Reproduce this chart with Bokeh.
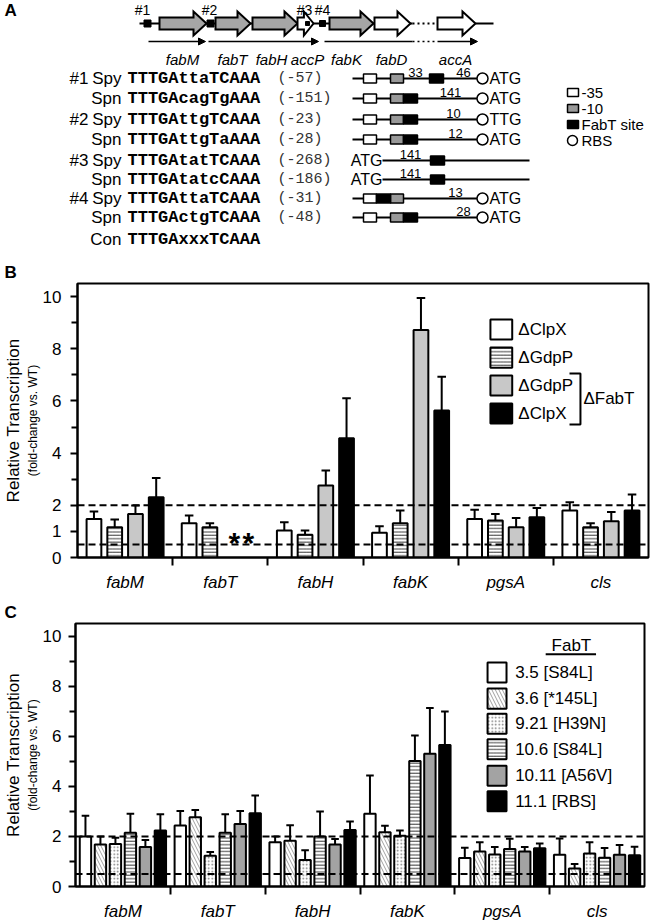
import math
from bokeh.plotting import figure
from bokeh.models import (Range1d, FixedTicker, CustomJSTickFormatter, Span, LinearAxis,
                          ColumnDataSource, Arrow, NormalHead)
from bokeh.embed import file_html
from bokeh.resources import INLINE
from bokeh.core.properties import value

SANS = "Liberation Sans"
MONO = "Liberation Mono"

# ---------------- Panel A data (schematic, page-pixel coordinates) ----------------
promoter_ids = ["#1", "#2", "#3", "#4"]
promoter_x = [147, 210, 307, 322]
promoter_label_x = [142, 209, 304, 322]

genes_a = ["fabM", "fabT", "fabH", "accP", "fabK", "fabD", "accA"]
gene_start = [159, 215, 252, 297, 329, 374, 437]
gene_end = [206, 250, 297, 313, 373, 410, 475]
gene_filled = [True, True, True, False, True, False, False]
gene_label_x = [182, 232, 271, 307, 346, 391, 455]

operon_start = [148, 208, 324]
operon_end = [205, 318, 477]

seq_group = ["#1", "", "#2", "", "#3", "", "#4", ""]
seq_species = ["Spy", "Spn", "Spy", "Spn", "Spy", "Spn", "Spy", "Spn"]
seq_text = ["TTTGAttaTCAAA", "TTTGAcagTgAAA", "TTTGAttgTCAAA", "TTTGAttgTaAAA",
            "TTTGAtatTCAAA", "TTTGAtatcCAAA", "TTTGAttaTCAAA", "TTTGActgTCAAA"]
seq_pos = ["(-57)", "(-151)", "(-23)", "(-28)", "(-268)", "(-186)", "(-31)", "(-48)"]
row_y = [78, 98, 119, 139, 160, 179, 198, 217]
con_label = "Con"
consensus = "TTTGAxxxTCAAA"
con_y = 239

has_promoter = [True, True, True, True, False, False, True, True]
box35 = [363, 376]
box10 = [390, 403]
fabt_left = [429, 403, 403, 403, 430, 430, 376, 403]
start_codon = ["ATG", "ATG", "TTG", "ATG", "ATG", "ATG", "ATG", "ATG"]
spacer_text = ["33", "46", "141", "10", "12", "141", "141", "13", "28"]
spacer_x = [415, 463, 450, 453, 455, 410, 410, 455, 463]
spacer_row = [0, 0, 1, 2, 3, 4, 5, 6, 7]

legend_a_labels = ["-35", "-10", "FabT site", "RBS"]
legend_a_y = [92, 108, 124, 140]

# ---------------- Panel B data ----------------
genes = ["fabM", "fabT", "fabH", "fabK", "pgsA", "cls"]
b_labels = ["\u0394ClpX", "\u0394GdpP", "\u0394GdpP", "\u0394ClpX"]
b_clpx = [1.48, 1.31, 1.03, 0.95, 1.48, 1.80]
b_clpx_err = [1.76, 1.61, 1.35, 1.20, 1.83, 2.12]
b_gdpp = [1.16, 1.16, 0.87, 1.31, 1.42, 1.16]
b_gdpp_err = [1.46, 1.31, 1.03, 1.80, 1.67, 1.31]
b_gdpp_fabt = [1.67, None, 2.76, 8.72, 1.16, 1.39]
b_gdpp_fabt_err = [1.99, None, 3.33, 9.94, 1.51, 1.74]
b_clpx_fabt = [2.31, None, 4.57, 5.63, 1.54, 1.80]
b_clpx_fabt_err = [3.05, None, 6.10, 6.93, 1.90, 2.41]
b_yticks = [0, 1, 2, 4, 6, 8, 10]
b_yminor = [3, 5, 7, 9]

# ---------------- Panel C data ----------------
c_labels = ["3.5 [S84L]", "3.6 [*145L]", "9.21 [H39N]", "10.6 [S84L]", "10.11 [A56V]", "11.1 [RBS]"]
c_35 = [2.00, 2.44, 1.77, 2.90, 1.14, 1.27]
c_35_err = [2.82, 3.01, 2.00, 4.43, 1.55, 1.92]
c_36 = [1.68, 2.76, 1.83, 2.17, 1.40, 0.72]
c_36_err = [2.00, 3.05, 2.45, 2.43, 1.77, 0.90]
c_921 = [1.70, 1.23, 1.06, 2.03, 1.28, 1.32]
c_921_err = [1.95, 1.38, 1.45, 2.24, 1.58, 1.77]
c_106 = [2.15, 2.15, 2.00, 5.01, 1.50, 1.15]
c_106_err = [2.90, 2.88, 2.99, 6.03, 1.91, 1.54]
c_1011 = [1.58, 2.50, 1.68, 5.30, 1.40, 1.27]
c_1011_err = [1.86, 3.01, 1.90, 7.13, 1.58, 1.66]
c_111 = [2.24, 2.92, 2.26, 5.65, 1.53, 1.25]
c_111_err = [2.88, 3.63, 2.60, 6.99, 1.72, 1.59]
c_yticks = [0, 2, 4, 6, 8, 10]
c_yminor = [1, 3, 5, 7, 9]

ref_lines = [2, 0.5]

# styles
WHITE = dict(fill_color="white")
HLINE = dict(fill_color="white", hatch_pattern="horizontal_line", hatch_color="#222222",
             hatch_scale=3.4, hatch_weight=0.9)
DIAG = dict(fill_color="white", hatch_pattern="left_diagonal_line", hatch_color="#777777",
            hatch_scale=7, hatch_weight=0.7)
DOTS = dict(fill_color="white", hatch_pattern="dot", hatch_color="#777777",
            hatch_scale=3.5, hatch_weight=0.8)
LGREY = dict(fill_color="#c8c8c8")
DGREY = dict(fill_color="#a3a3a3")
BLACK = dict(fill_color="black")


def txt(p, xs, ys, texts, size, font=SANS, style="normal", align="left", baseline="middle",
        color="black", angle=0):
    p.text(x=xs, y=ys, text=texts, text_font=value(font), text_font_size=size,
           text_font_style=style, text_align=align, text_baseline=baseline,
           text_color=color, angle=angle)


def blank_fig(top, bottom):
    p = figure(width=650, height=bottom - top, x_range=Range1d(0, 650),
               y_range=Range1d(bottom, top), toolbar_location=None, output_backend="svg",
               x_axis_location=None, y_axis_location=None,
               min_border_left=0, min_border_right=0, min_border_top=0, min_border_bottom=0)
    p.grid.visible = False
    p.outline_line_color = None
    return p


# ======================= Panel A =======================
pa = blank_fig(0, 281)
txt(pa, [4], [10], ["A"], "17px", style="bold")
txt(pa, [4], [272], ["B"], "17px", style="bold")

axis_y = 23
pa.segment(x0=[139, 475], y0=[axis_y, axis_y], x1=[412, 493], y1=[axis_y, axis_y],
           line_color="black", line_width=2)
pa.segment(x0=[412], y0=[axis_y], x1=[437], y1=[axis_y], line_color="black",
           line_width=2, line_dash="2 3")

xs, ys, fills = [], [], []
for x0, x1, filled in zip(gene_start, gene_end, gene_filled):
    hl = min(13, (x1 - x0) * 0.6)
    xh = x1 - hl
    xs.append([x0, xh, xh, x1, xh, xh, x0])
    ys.append([axis_y - 6, axis_y - 6, axis_y - 12, axis_y, axis_y + 12, axis_y + 6, axis_y + 6])
    fills.append("#a6a6a6" if filled else "white")
pa.patches(xs, ys, fill_color=fills, line_color="black", line_width=2, line_join="miter")

psize = [7, 7, 4, 6]
pa.rect(x=promoter_x, y=[axis_y] * 4, width=psize, height=psize, fill_color="black",
        line_color="black")
txt(pa, promoter_label_x, [9] * 4, promoter_ids, "14px", align="center")

arrow_y = 41
for s, e in zip(operon_start, operon_end):
    if e > 440:
        pa.segment(x0=[s], y0=[arrow_y], x1=[412], y1=[arrow_y], line_color="black",
                   line_width=1.5)
        pa.segment(x0=[412], y0=[arrow_y], x1=[436], y1=[arrow_y], line_color="black",
                   line_width=1.5, line_dash="2 3")
        s = 437
    pa.add_layout(Arrow(x_start=s, y_start=arrow_y, x_end=e, y_end=arrow_y, line_width=1.5,
                        end=NormalHead(size=7, fill_color="black", line_color="black")))
txt(pa, gene_label_x, [59] * 7, genes_a, "15px", style="italic", align="center")

txt(pa, [88] * 8, row_y, seq_group, "17px", align="right")
txt(pa, [121] * 8, row_y, seq_species, "17px", align="right")
txt(pa, [127] * 8, row_y, seq_text, "17px", font=MONO, style="bold")
txt(pa, [277] * 8, row_y, seq_pos, "15px", font=MONO, color="#333333")
txt(pa, [121], [con_y], [con_label], "17px", align="right")
txt(pa, [127], [con_y], [consensus], "17px", font=MONO, style="bold")

prom_rows = [i for i in range(8) if has_promoter[i]]
other_rows = [i for i in range(8) if not has_promoter[i]]
pa.segment(x0=[352] * len(prom_rows), y0=[row_y[i] for i in prom_rows],
           x1=[477] * len(prom_rows), y1=[row_y[i] for i in prom_rows],
           line_color="black", line_width=2)
pa.segment(x0=[382] * len(other_rows), y0=[row_y[i] for i in other_rows],
           x1=[529] * len(other_rows), y1=[row_y[i] for i in other_rows],
           line_color="black", line_width=2)
bh = 4.5
pa.quad(left=[box35[0]] * len(prom_rows), right=[box35[1]] * len(prom_rows),
        top=[row_y[i] - bh for i in prom_rows], bottom=[row_y[i] + bh for i in prom_rows],
        fill_color="white", line_color="black", line_width=1.5)
pa.quad(left=[box10[0]] * len(prom_rows), right=[box10[1]] * len(prom_rows),
        top=[row_y[i] - bh for i in prom_rows], bottom=[row_y[i] + bh for i in prom_rows],
        fill_color="#999999", line_color="black", line_width=1.5)
pa.quad(left=fabt_left, right=[v + 14 for v in fabt_left],
        top=[y - bh for y in row_y], bottom=[y + bh for y in row_y],
        fill_color="black", line_color="black", line_width=1.5)
pa.scatter(x=[482] * len(prom_rows), y=[row_y[i] for i in prom_rows], size=11,
           marker="circle", fill_color="white", line_color="black", line_width=1.5)
txt(pa, [489] * len(prom_rows), [row_y[i] for i in prom_rows],
    [start_codon[i] for i in prom_rows], "16px")
txt(pa, [382] * len(other_rows), [row_y[i] for i in other_rows],
    [start_codon[i] for i in other_rows], "16px", align="right")
txt(pa, spacer_x, [row_y[r] - 2 for r in spacer_row], spacer_text, "13px",
    align="center", baseline="bottom")

pa.quad(left=[567] * 3, right=[578] * 3, top=[y - 4 for y in legend_a_y[:3]],
        bottom=[y + 4 for y in legend_a_y[:3]],
        fill_color=["white", "#999999", "black"], line_color="black", line_width=1.5)
pa.scatter(x=[572], y=[legend_a_y[3]], size=10, marker="circle", fill_color="white",
           line_color="black", line_width=1.5)
txt(pa, [581] * 4, legend_a_y, legend_a_labels, "15px")


# ======================= bar panels =======================
def title_axis(p, text, size):
    ax = LinearAxis(axis_label=text, axis_label_text_font=SANS, axis_label_text_font_size=size,
                    axis_label_text_font_style="normal", axis_label_text_color="black",
                    axis_label_standoff=0, axis_line_color=None,
                    major_tick_line_color=None, minor_tick_line_color=None,
                    major_tick_out=0, major_tick_in=0, minor_tick_out=0, minor_tick_in=0,
                    major_label_standoff=0, major_label_text_font_size="0px",
                    ticker=FixedTicker(ticks=[]))
    p.add_layout(ax, "left")


def bar_panel(height, min_left, min_right, min_top, min_bottom, series, errs, styles,
              pitch, bw, cap, yticks, yminor, ystandoff):
    p = figure(width=650, height=height, x_range=Range1d(0, 6), y_range=Range1d(0, 10.5),
               toolbar_location=None, output_backend="svg",
               min_border_left=min_left, min_border_right=min_right,
               min_border_top=min_top, min_border_bottom=min_bottom)
    p.grid.visible = False
    p.outline_line_color = "black"
    p.outline_line_width = 2
    n = len(series)
    for j, (vals, ev, st) in enumerate(zip(series, errs, styles)):
        xs = [i + 0.5 + (j - (n - 1) / 2) * pitch for i in range(6)]
        keep = [i for i in range(6) if vals[i] is not None]
        src = ColumnDataSource(dict(x=[xs[i] for i in keep], top=[vals[i] for i in keep],
                                    err=[ev[i] for i in keep],
                                    x0=[xs[i] - cap for i in keep],
                                    x1=[xs[i] + cap for i in keep]))
        p.segment(x0="x", y0="top", x1="x", y1="err", source=src, line_color="black",
                  line_width=2)
        p.segment(x0="x0", y0="err", x1="x1", y1="err", source=src, line_color="black",
                  line_width=2)
        p.vbar(x="x", top="top", bottom=0, width=bw, source=src, line_color="black",
               line_width=2, **st)
    for loc in ref_lines:
        p.add_layout(Span(location=loc, dimension="width", line_color="black",
                          line_width=2, line_dash="7 4"))
    xa = p.xaxis[0]
    xa.ticker = FixedTicker(ticks=[i + 0.5 for i in range(6)], minor_ticks=[1, 2, 3, 4, 5])
    xa.formatter = CustomJSTickFormatter(args=dict(labels=genes),
                                         code="return labels[Math.floor(tick)];")
    xa.major_tick_out = 0
    xa.major_tick_in = 0
    xa.minor_tick_out = 8
    xa.minor_tick_in = 0
    xa.minor_tick_line_width = 2
    xa.minor_tick_line_color = "black"
    xa.axis_line_width = 2
    xa.major_label_text_font = SANS
    xa.major_label_text_font_style = "italic"
    xa.major_label_text_font_size = "17px"
    xa.major_label_text_color = "black"
    xa.major_label_standoff = 7
    ya = p.yaxis[0]
    ya.ticker = FixedTicker(ticks=yticks, minor_ticks=yminor)
    ya.major_tick_out = 7
    ya.major_tick_in = 0
    ya.minor_tick_out = 6
    ya.minor_tick_in = 0
    ya.major_tick_line_width = 2
    ya.minor_tick_line_width = 2
    ya.axis_line_width = 2
    ya.major_label_text_font = SANS
    ya.major_label_text_font_size = "17px"
    ya.major_label_text_color = "black"
    ya.major_label_standoff = ystandoff
    title_axis(p, "(fold-change vs. WT)", "12px")
    title_axis(p, "Relative Transcription", "17px")
    return p


pb = bar_panel(315, 69, 2, 2, 39,
               [b_clpx, b_gdpp, b_gdpp_fabt, b_clpx_fabt],
               [b_clpx_err, b_gdpp_err, b_gdpp_fabt_err, b_clpx_fabt_err],
               [WHITE, HLINE, LGREY, BLACK], 0.218, 0.155, 0.045,
               b_yticks, b_yminor, 9)
# missing bars (fabT, FabT deletions) marked with asterisks
txt(pb, [1.5 + 0.68 * 0.218, 1.5 + 1.35 * 0.218], [0.58, 0.58], ["*", "*"], "30px",
    style="bold", align="center")
b_leg_y = [8.74, 7.66, 6.59, 5.52]
for st, yc in zip([WHITE, HLINE, LGREY, BLACK], b_leg_y):
    pb.quad(left=[4.339], right=[4.568], top=[yc + 0.385], bottom=[yc - 0.385],
            line_color="black", line_width=2, **st)
txt(pb, [4.632] * 4, b_leg_y, b_labels, "17px")
pb.line(x=[5.17, 5.285, 5.285, 5.17], y=[7.05, 7.05, 5.1, 5.1], line_color="black",
        line_width=2)
txt(pb, [5.316], [6.09], ["\u0394FabT"], "17px")

pcl = blank_fig(596, 621)
txt(pcl, [4], [612], ["C"], "17px", style="bold")

pc = bar_panel(302, 67, 6, 2, 27,
               [c_35, c_36, c_921, c_106, c_1011, c_111],
               [c_35_err, c_36_err, c_921_err, c_106_err, c_1011_err, c_111_err],
               [WHITE, DIAG, DOTS, HLINE, DGREY, BLACK], 0.158, 0.12, 0.04,
               c_yticks, c_yminor, 7)
txt(pc, [5.229], [9.615], ["FabT"], "17px", align="center")
pc.segment(x0=[4.958], y0=[9.27], x1=[5.489], y1=[9.27], line_color="black", line_width=2)
c_leg_y = [8.54, 7.5, 6.5, 5.48, 4.42, 3.4]
for st, yc in zip([WHITE, DIAG, DOTS, HLINE, DGREY, BLACK], c_leg_y):
    pc.quad(left=[4.345], right=[4.545], top=[yc + 0.4], bottom=[yc - 0.4],
            line_color="black", line_width=2, **st)
txt(pc, [4.636] * 6, c_leg_y, c_labels, "17px")

open("out.html", "w").write(file_html([pa, pb, pcl, pc], INLINE))
